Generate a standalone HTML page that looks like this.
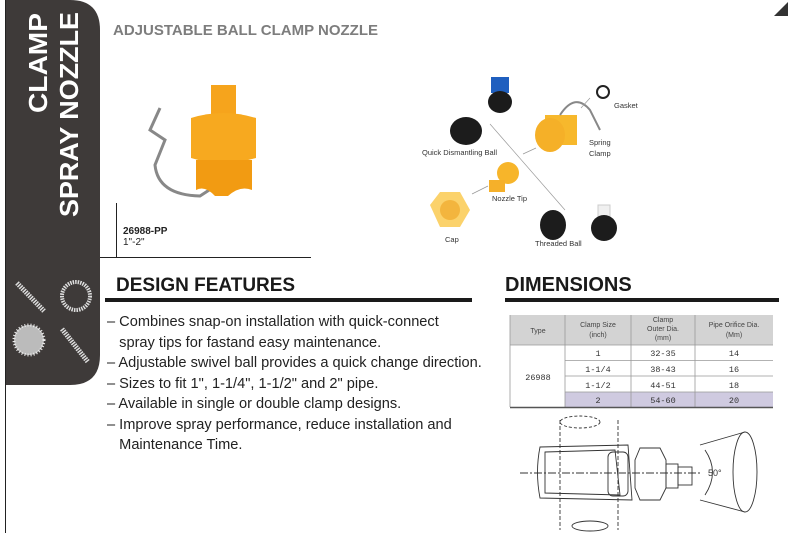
<!DOCTYPE html>
<html><head><meta charset="utf-8"><style>
body{margin:0;width:788px;height:533px;background:#fff;position:relative;overflow:hidden;font-family:"Liberation Sans",sans-serif}
.a{position:absolute}
</style></head><body>
<svg class="a" style="left:0;top:0" width="788" height="533">
<line x1="5.5" y1="0" x2="5.5" y2="533" stroke="#222" stroke-width="1"/>
<path d="M6 0 H70 Q100 0 100 30 V355 Q100 385 70 385 H6 Z" fill="#3e3a39"/>
<g fill="none" stroke="#ddd" stroke-width="5" stroke-dasharray="1.5 1">
<line x1="17" y1="283" x2="44" y2="311"/>
<circle cx="76" cy="296" r="14" stroke-width="4"/>
<line x1="62" y1="329" x2="88" y2="362"/>
</g>
<circle cx="29" cy="340" r="15" fill="#bbb"/>
<circle cx="29" cy="340" r="15" fill="none" stroke="#eee" stroke-width="3" stroke-dasharray="1 2"/>
<text transform="translate(47,113) rotate(-90)" font-size="26" font-weight="bold" fill="#fff" textLength="100" lengthAdjust="spacingAndGlyphs">CLAMP</text>
<text transform="translate(78,217) rotate(-90)" font-size="26" font-weight="bold" fill="#fff" textLength="205" lengthAdjust="spacingAndGlyphs">SPRAY NOZZLE</text>
<polygon points="774,16 788,2 788,16" fill="#333"/>
<line x1="116.5" y1="203" x2="116.5" y2="257" stroke="#222"/>
<line x1="100" y1="257.5" x2="311" y2="257.5" stroke="#222"/>
<rect x="105" y="298" width="367" height="4" fill="#1a1a1a"/>
<rect x="505" y="298" width="274" height="4" fill="#1a1a1a"/>
<!-- product photo -->
<path d="M160 108 L150 130 L165 140 L155 165 Q158 195 200 196 L220 183" fill="none" stroke="#888" stroke-width="3"/>
<rect x="211" y="85" width="25" height="30" fill="#f6a41c"/>
<path d="M191 118 Q223 108 256 118 V158 Q223 168 191 158 Z" fill="#f7a91f"/>
<path d="M196 160 H252 V190 Q240 185 228 196 H215 Q205 185 196 190 Z" fill="#f29b12"/>
<!-- exploded view -->
<rect x="491" y="77" width="18" height="16" fill="#1f5fbf"/>
<ellipse cx="500" cy="102" rx="12" ry="11" fill="#1b1b1b"/>
<ellipse cx="466" cy="131" rx="16" ry="14" fill="#1c1c1c"/>
<rect x="545" y="115" width="32" height="30" fill="#f7b82c"/>
<ellipse cx="550" cy="135" rx="15" ry="17" fill="#f5b028"/>
<path d="M560 115 Q575 92 590 110 L600 130" fill="none" stroke="#888" stroke-width="2"/>
<circle cx="603" cy="92" r="6" fill="none" stroke="#222" stroke-width="2"/>
<circle cx="508" cy="173" r="11" fill="#f7b52a"/>
<rect x="489" y="180" width="16" height="12" fill="#f5b02a"/>
<polygon points="430,205 440,192 460,192 470,210 460,227 440,227" fill="#fbd26b"/>
<circle cx="450" cy="210" r="10" fill="#f3b53e"/>
<ellipse cx="553" cy="225" rx="13" ry="15" fill="#1c1c1c"/>
<rect x="598" y="205" width="12" height="12" fill="#f0f0f0" stroke="#ccc"/>
<ellipse cx="604" cy="228" rx="13" ry="13" fill="#1c1c1c"/>
<g stroke="#999" stroke-width="0.7" fill="none">
<line x1="490" y1="124" x2="565" y2="210"/><line x1="523" y1="154" x2="536" y2="148"/>
<line x1="472" y1="194" x2="488" y2="186"/><line x1="590" y1="98" x2="581" y2="108"/>
</g>
<g font-size="7.5" fill="#333">
<text x="614" y="108">Gasket</text><text x="589" y="145">Spring</text><text x="589" y="156">Clamp</text>
<text x="422" y="155">Quick Dismantling Ball</text><text x="492" y="201">Nozzle Tip</text>
<text x="445" y="242">Cap</text><text x="535" y="246">Threaded Ball</text>
</g>
<!-- table -->
<rect x="510" y="315" width="263" height="30" fill="#d3d3d3"/>
<rect x="565" y="392" width="208" height="15" fill="#cfcae0"/>
<g stroke="#999" stroke-width="0.8" fill="none">
<line x1="565" y1="315" x2="565" y2="407"/><line x1="631" y1="315" x2="631" y2="407"/><line x1="695" y1="315" x2="695" y2="407"/>
<line x1="510" y1="345" x2="773" y2="345"/><line x1="565" y1="360.5" x2="773" y2="360.5"/><line x1="565" y1="376" x2="773" y2="376"/><line x1="565" y1="392" x2="773" y2="392"/>
<line x1="510" y1="315" x2="510" y2="407"/>
</g>
<line x1="510" y1="407.5" x2="773" y2="407.5" stroke="#555" stroke-width="1.5"/>
<g font-size="7" fill="#444" text-anchor="middle">
<text x="538" y="333">Type</text>
<text x="598" y="327">Clamp Size</text><text x="598" y="337">(inch)</text>
<text x="663" y="322">Clamp</text><text x="663" y="331">Outer Dia.</text><text x="663" y="340">(mm)</text>
<text x="734" y="327">Pipe Orifice Dia.</text><text x="734" y="337">(Mm)</text>
</g>
<g font-size="8.5" fill="#333" text-anchor="middle" font-family="Liberation Mono,monospace">
<text x="538" y="380">26988</text>
<text x="598" y="356">1</text><text x="663" y="356">32-35</text><text x="734" y="356">14</text>
<text x="598" y="372">1-1/4</text><text x="663" y="372">38-43</text><text x="734" y="372">16</text>
<text x="598" y="388">1-1/2</text><text x="663" y="388">44-51</text><text x="734" y="388">18</text>
<text x="598" y="403">2</text><text x="663" y="403">54-60</text><text x="734" y="403">20</text>
</g>
<!-- technical drawing -->
<g fill="none" stroke="#333" stroke-width="0.9">
<path d="M560 420 V530 M618 420 V530" stroke-dasharray="4 2"/>
<ellipse cx="580" cy="422" rx="20" ry="6" stroke-dasharray="3 2"/>
<ellipse cx="590" cy="526" rx="18" ry="5"/>
<path d="M540 447 L628 445 L632 500 L540 498 Q535 472 540 447 Z"/>
<path d="M545 452 L615 450 L620 495 L545 493 Z"/>
<rect x="608" y="452" width="20" height="44" rx="5"/>
<path d="M640 448 H660 L666 460 V488 L660 500 H640 L635 488 V460 Z"/>
<rect x="666" y="464" width="12" height="24"/><rect x="678" y="467" width="14" height="18"/>
<path d="M700 445 L745 432 M700 500 L745 512"/>
<ellipse cx="745" cy="472" rx="12" ry="40"/>
<path d="M705 450 Q720 472 705 495"/>
<line x1="520" y1="473" x2="700" y2="473" stroke-dasharray="8 2 2 2"/>
</g>
<text x="708" y="476" font-size="9" fill="#333">50°</text>
</svg>
<div class="a" style="left:113px;top:22px;font-size:15px;font-weight:bold;color:#7d7d7d">ADJUSTABLE BALL CLAMP NOZZLE</div>
<div class="a" style="left:123px;top:226px;font-size:10px;font-weight:bold;color:#222;line-height:11px">26988-PP<br><span style="font-weight:normal">1"-2"</span></div>
<div class="a" style="left:116px;top:275px;font-size:19px;font-weight:bold;color:#1a1a1a">DESIGN FEATURES</div>
<div class="a" style="left:505px;top:274px;font-size:20px;font-weight:bold;color:#1a1a1a">DIMENSIONS</div>
<div class="a" style="left:107px;top:312px;font-size:14.6px;color:#222;line-height:20.5px">– Combines snap-on installation with quick-connect<br>&nbsp;&nbsp;&nbsp;spray tips for fastand easy maintenance.<br>– Adjustable swivel ball provides a quick change direction.<br>– Sizes to fit 1", 1-1/4", 1-1/2" and 2" pipe.<br>– Available in single or double clamp designs.<br>– Improve spray performance, reduce installation and<br>&nbsp;&nbsp;&nbsp;Maintenance Time.</div>
</body></html>
